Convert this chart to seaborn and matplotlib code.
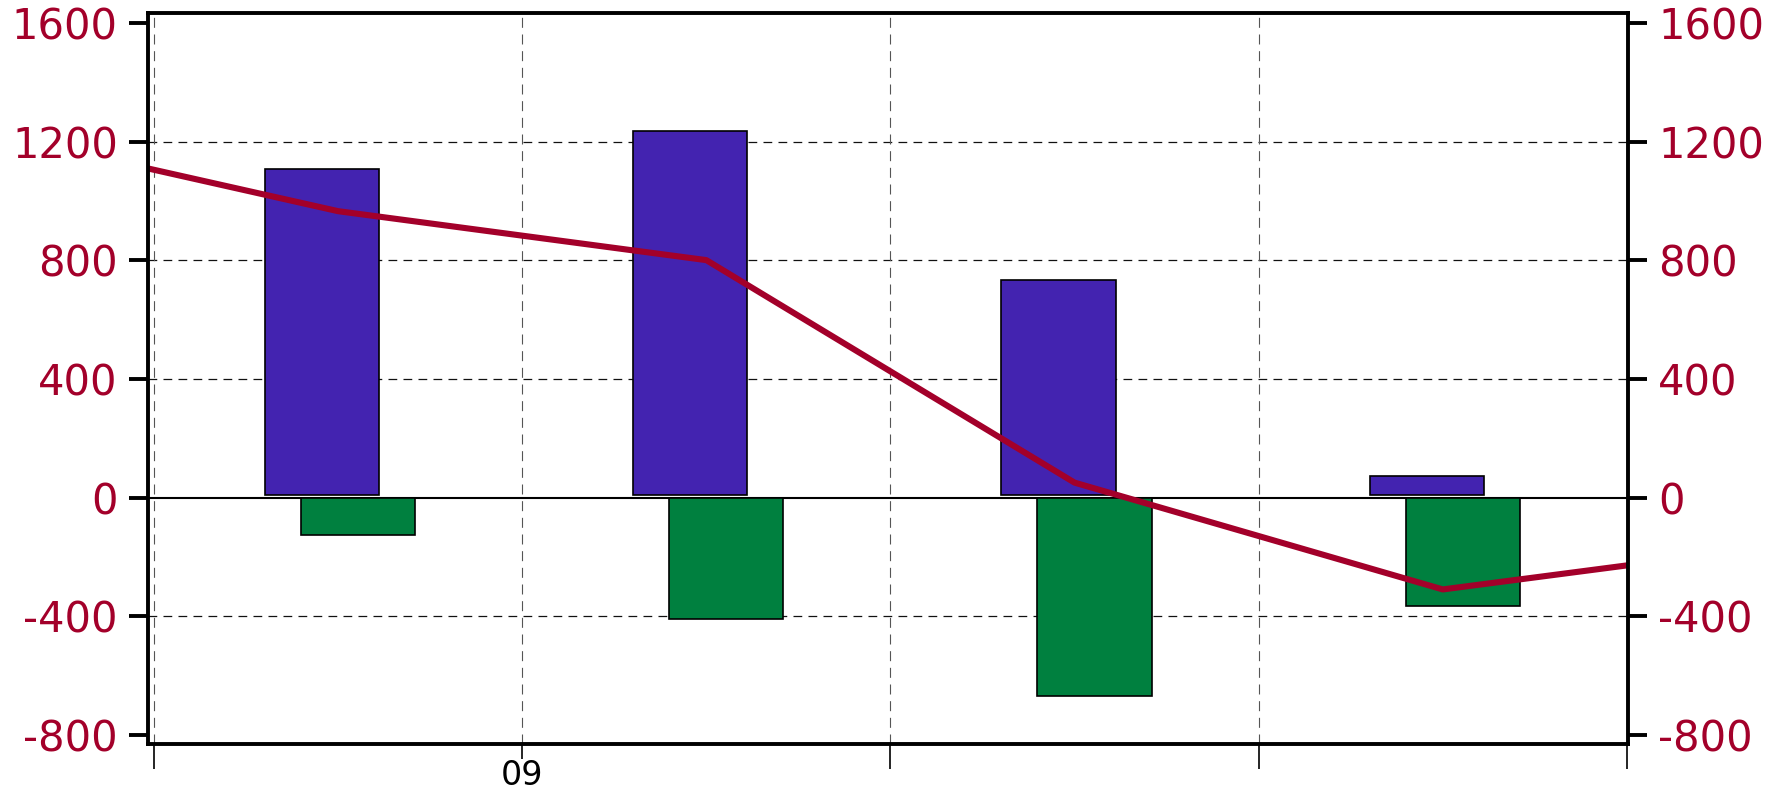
import matplotlib
matplotlib.use("Agg")
import matplotlib.pyplot as plt
import seaborn as sns
import numpy as np
import pandas as pd
from matplotlib.ticker import FixedLocator, FixedFormatter

# ---------------- data ----------------
bar_quarters = ["Q4 08", "Q1 09", "Q2 09", "Q3 09"]
purple_values = [1108, 1237, 735, 72]
green_values = [-127, -410, -668, -366]
line_quarters = ["Q3 08", "Q4 08", "Q1 09", "Q2 09", "Q3 09", "Q4 09"]
line_values = [1245, 966, 801, 51, -309, -147]
y_ticks = [-800, -400, 0, 400, 800, 1200, 1600]
y_grid_levels = [-400, 400, 800, 1200]
x_boundaries = [0, 1, 2, 3, 4]
x_major_ticks = [1]
x_major_labels = ["09"]

# ---------------- style ----------------
PURPLE = "#4323B0"
GREEN = "#00803F"
RED = "#A3002A"
PURPLE_BASE = 10  # small gap between purple bars and the zero line

sns.set_style("white")
plt.rcParams["font.family"] = ["DejaVu Sans"]

W, H = 1788, 791
fig = plt.figure(figsize=(W / 100, H / 100), dpi=100)
ax = fig.add_axes([148 / W, 1 - 744 / H, (1628 - 148) / W, (744 - 13) / H])

# positions (layout only)
mids_bar = np.arange(len(bar_quarters)) + 0.5
purple_x = mids_bar - 0.0435
green_x = mids_bar + 0.054
line_x = np.arange(len(line_quarters)) - 0.5

df_p = pd.DataFrame({"x": purple_x, "v": purple_values})
df_g = pd.DataFrame({"x": green_x, "v": green_values})
df_l = pd.DataFrame({"x": line_x, "v": line_values})

# grid and zero line (beneath bars)
for lv in y_grid_levels:
    ax.axhline(lv, color="#111111", lw=0.9, ls=(0, (7, 5)), zorder=0.5)
for xb in x_boundaries:
    ax.axvline(xb, color="#555555", lw=0.8, ls=(0, (9, 6)), zorder=0.5)
ax.axhline(0, color="black", lw=1.5, zorder=0.8)

sns.barplot(data=df_p, x="x", y="v", native_scale=True, width=0.31,
            color=PURPLE, edgecolor="black", linewidth=1.2, saturation=1,
            errorbar=None, ax=ax, zorder=2)
n_p = len(ax.patches)
for p, val in zip(ax.patches[:n_p], purple_values):
    p.set_y(PURPLE_BASE)
    p.set_height(val - PURPLE_BASE)

sns.barplot(data=df_g, x="x", y="v", native_scale=True, width=0.31,
            color=GREEN, edgecolor="black", linewidth=1.2, saturation=1,
            errorbar=None, ax=ax, zorder=2)

sns.lineplot(data=df_l, x="x", y="v", color=RED, linewidth=4.4, ax=ax, zorder=3)

ax.set_xlim(-0.0163, 4.003)
ax.set_ylim(-830, 1634)
ax.set_xlabel("")
ax.set_ylabel("")

# y axis ticks both sides
ax.yaxis.set_major_locator(FixedLocator(y_ticks))
ax.yaxis.set_major_formatter(FixedFormatter([str(v) for v in y_ticks]))
ax.tick_params(axis="y", which="major", direction="out", length=13.7, width=2.8,
               color="black", labelcolor=RED, labelsize=30, pad=8,
               left=True, right=True, labelleft=True, labelright=True)

# x axis ticks
ax.xaxis.set_major_locator(FixedLocator(x_major_ticks))
ax.xaxis.set_major_formatter(FixedFormatter(x_major_labels))
ax.xaxis.set_minor_locator(FixedLocator([b for b in x_boundaries if b not in x_major_ticks]))
ax.tick_params(axis="x", which="major", direction="out", length=10.5, width=1.2,
               color="black", labelcolor="black", labelsize=24, pad=0.5, bottom=True)
ax.tick_params(axis="x", which="minor", direction="out", length=18, width=1.2,
               color="black", bottom=True)

for s in ax.spines.values():
    s.set_visible(True)
    s.set_linewidth(2.8)
    s.set_color("black")
    s.set_zorder(5)

fig.savefig("out.png", dpi=100)
